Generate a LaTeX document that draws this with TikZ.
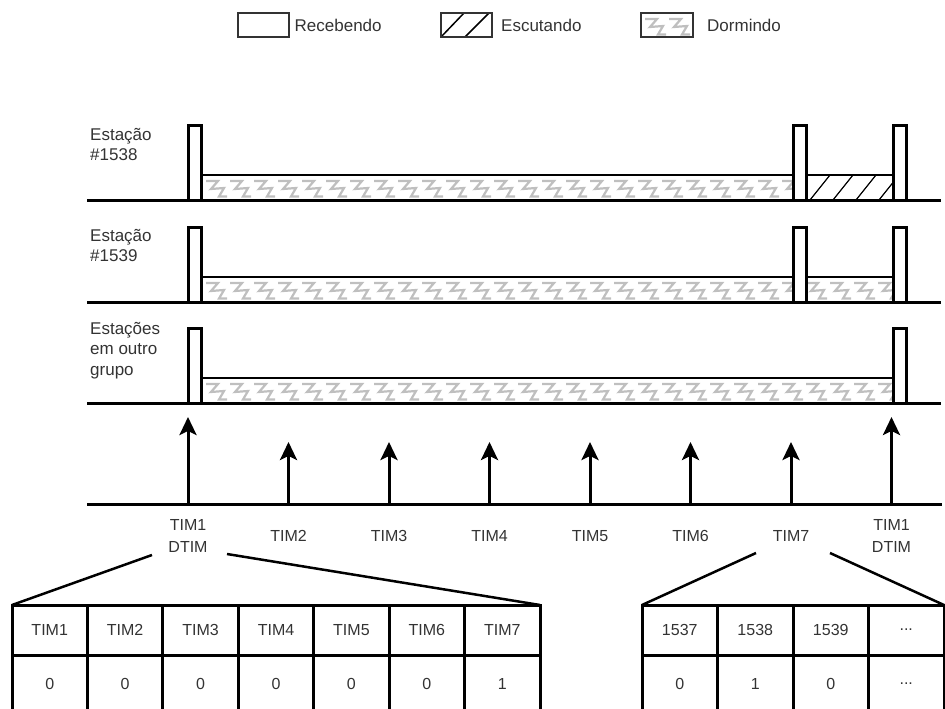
\documentclass[tikz,border=0pt]{standalone}
\usepackage{fontspec}
\setmainfont{Liberation Sans}
\usetikzlibrary{arrows.meta}
\newcommand\zzband[3]{%
  \begin{scope}
    \clip (#1,#3) rectangle (#2,#3+25);
    \foreach \k in {0,...,30}{%
      \draw[zig] ({#1+4+24*\k},{#3+6}) -- ++(12,0) -- ++(-7,8) -- ++(13,-1) -- ++(-5,8.5) -- ++(8,0);}
  \end{scope}}
\begin{document}
\begin{tikzpicture}[x=1pt,y=-1pt,
  txt/.style={text=black!80,inner sep=0pt},
  lbl/.style={txt,font=\fontsize{16}{22}\selectfont,align=center},
  stl/.style={txt,font=\fontsize{17}{20.5}\selectfont,align=left,anchor=north west},
  leg/.style={txt,font=\fontsize{17}{20}\selectfont,anchor=west},
  legbox/.style={draw=black!80,line width=2pt,minimum width=51pt,minimum height=24pt,inner sep=0pt},
  pulse/.style={draw,line width=3pt,fill=white,minimum width=13pt,minimum height=75pt,inner sep=0pt,outer sep=0pt,anchor=south},
  base/.style={line width=3pt},
  band/.style={line width=1.3pt},
  zig/.style={gray!50,line width=2.2pt,line join=miter},
  hatch/.style={line width=1.2pt},
  arr/.style={line width=3pt,-{Stealth[length=18pt,width=17pt,inset=4pt]}},
  cell/.style={draw,line width=3pt,minimum width=75.43pt,minimum height=50pt,inner sep=0pt,outer sep=0pt,text=black!80,font=\fontsize{16}{20}\selectfont},
  trap/.style={line width=2.5pt},
]
\useasboundingbox (0,0) rectangle (945,709);

% ---------- legend ----------
\draw[hatch,line width=1.5pt] (441,37) -- (464,13);
\draw[hatch,line width=1.5pt] (465,37) -- (489,13);
\zzband{641}{693}{13}
\node[legbox] (lg1) at (263.5,25) {};
\node[legbox] (lg2) at (466.5,25) {};
\node[legbox,minimum width=52pt] (lg3) at (667,25) {};
\node[leg] (lgt1) at (294.5,25) {Recebendo};
\node[leg] (lgt2) at (501,25) {Escutando};
\node[leg] (lgt3) at (707,25) {Dormindo};

% ---------- station rows ----------
% row 1
\zzband{202}{793}{175}
\draw[band] (202,175) rectangle (793,200);
\begin{scope}
  \clip (806,175) rectangle (893,200);
  \foreach \k in {-1,0,1,2,3,4} \draw[hatch] ({810+23*\k},200) -- ++(20,-25);
\end{scope}
\draw[band] (806,175) rectangle (893,200);
\draw[base] (87,200) -- (941,200);
\node[pulse] (p11) at (195,200) {};
\node[pulse] (p12) at (799.5,200) {};
\node[pulse] (p13) at (899.5,200) {};
\node[stl] (s1) at (90,128) {Estação\\\#1538};

% row 2
\zzband{202}{893}{277}
\draw[band] (202,277) rectangle (893,302);
\draw[base] (87,302) -- (941,302);
\node[pulse] (p21) at (195,302) {};
\node[pulse] (p22) at (799.5,302) {};
\node[pulse] (p23) at (899.5,302) {};
\node[stl] (s2) at (90,229) {Estação\\\#1539};

% row 3
\zzband{202}{893}{378}
\draw[band] (202,378) rectangle (893,403);
\draw[base] (87,403) -- (941,403);
\node[pulse] (p31) at (195,403) {};
\node[pulse] (p33) at (899.5,403) {};
\node[stl] (s3) at (90,322) {Estações\\em outro\\grupo};

% ---------- timeline ----------
\draw[base] (87,504) -- (942,504);
\foreach \x/\t [count=\i] in {188/417,288.5/442,389/442,489.5/442,590/442,690.5/442,791/442,891.5/417}{
  \coordinate (ab\i) at (\x,504);
  \coordinate (at\i) at (\x,\t);
  \draw[arr] (ab\i) -- (at\i);
}
\node[lbl] (l1) at (188,536) {TIM1\\DTIM};
\node[lbl] (l2) at (288.5,536) {TIM2};
\node[lbl] (l3) at (389,536) {TIM3};
\node[lbl] (l4) at (489.5,536) {TIM4};
\node[lbl] (l5) at (590,536) {TIM5};
\node[lbl] (l6) at (690.5,536) {TIM6};
\node[lbl] (l7) at (791,536) {TIM7};
\node[lbl] (l8) at (891.5,536) {TIM1\\DTIM};

% ---------- tables ----------
\foreach \t [count=\i] in {TIM1,TIM2,TIM3,TIM4,TIM5,TIM6,TIM7}
  \node[cell] (lt\i) at ({12+75.43*(\i-0.5)},630) {\t};
\foreach \t [count=\i] in {0,0,0,0,0,0,1}
  \node[cell,minimum height=57pt] (lb\i) at ({12+75.43*(\i-0.5)},683.5) {\t};
\node[cell,minimum width=75.5pt] (rt1) at (679.75,630) {1537};
\node[cell,minimum width=75.5pt] (rt2) at (755.25,630) {1538};
\node[cell,minimum width=75.5pt] (rt3) at (830.75,630) {1539};
\node[cell,minimum width=75.5pt] (rt4) at (906.25,630) {...};
\node[cell,minimum width=75.5pt,minimum height=57pt] (rb1) at (679.75,683.5) {0};
\node[cell,minimum width=75.5pt,minimum height=57pt] (rb2) at (755.25,683.5) {1};
\node[cell,minimum width=75.5pt,minimum height=57pt] (rb3) at (830.75,683.5) {0};
\node[cell,minimum width=75.5pt,minimum height=57pt] (rb4) at (906.25,683.5) {...};

\coordinate (tlA) at (152,555);
\coordinate (tlB) at (227,554);
\coordinate (trA) at (756,553);
\coordinate (trB) at (830,553);
\draw[trap] (lt1.north west) -- (tlA);
\draw[trap] (tlB) -- (lt7.north east);
\draw[trap] (rt1.north west) -- (trA);
\draw[trap] (trB) -- (rt4.north east);
\end{tikzpicture}
\end{document}
